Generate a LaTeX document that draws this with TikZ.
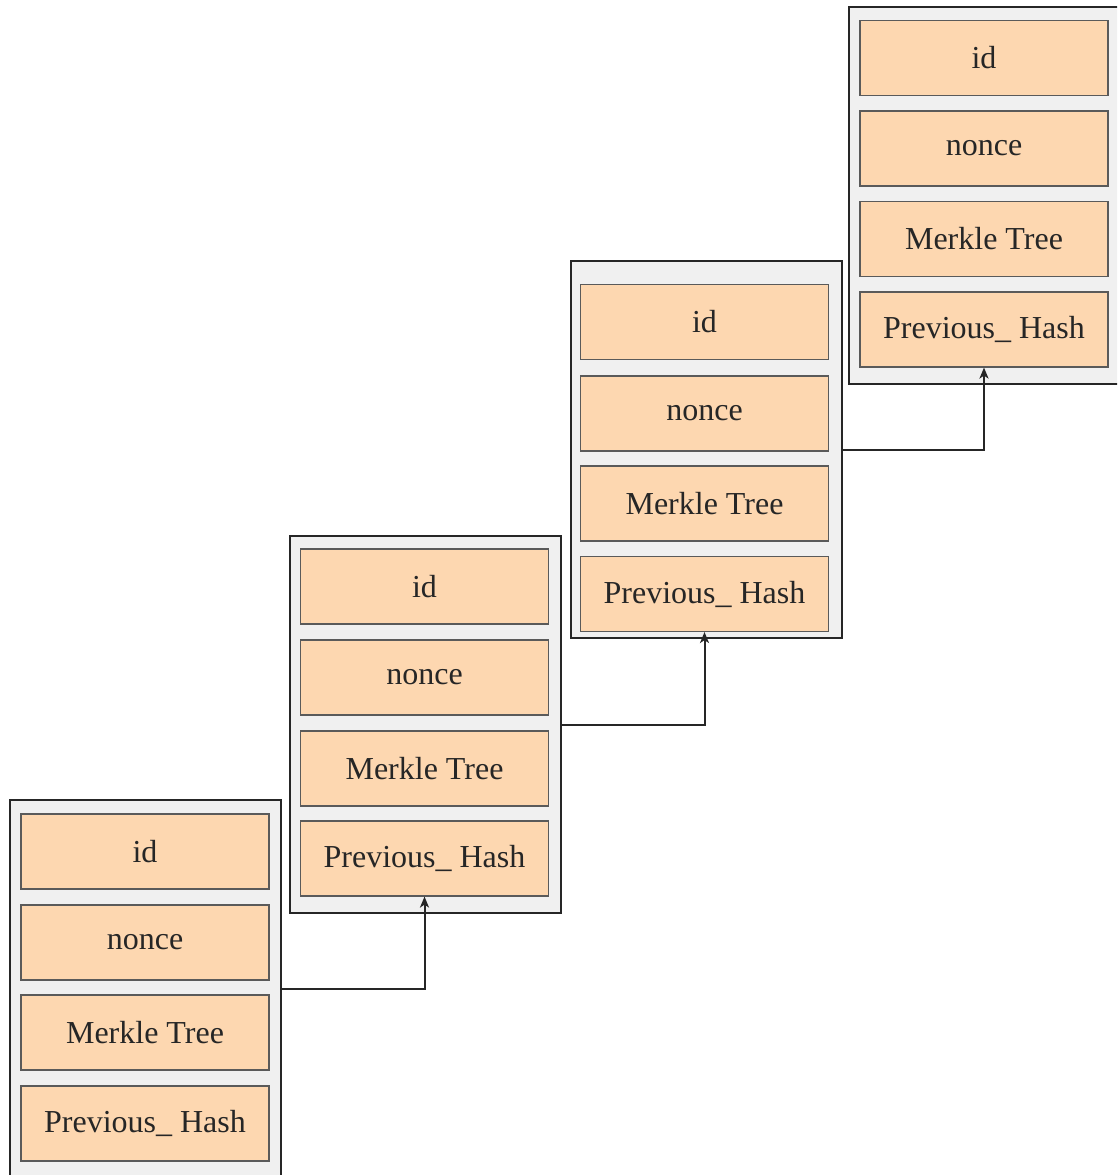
\documentclass[tikz,border=0pt]{standalone}
\usepackage{fontspec}
\setmainfont{Liberation Serif}
\usetikzlibrary{arrows.meta}
\definecolor{fieldfill}{HTML}{FDD7B0}
\definecolor{blockfill}{HTML}{F0F0F0}
\definecolor{inkdark}{HTML}{262626}
\definecolor{fieldline}{HTML}{5A5A5A}
\tikzset{
  blockbox/.style={draw=inkdark, line width=2pt, fill=blockfill, inner sep=0pt,
    minimum width=271pt, minimum height=377pt},
  fieldbox/.style={draw=fieldline, line width=1.1pt, fill=fieldfill, inner sep=0pt,
    minimum width=248pt, minimum height=75pt, text=inkdark,
    font=\fontsize{32}{38}\selectfont},
  chainlink/.style={draw=inkdark, line width=2pt,
    -{Stealth[length=11pt,width=9pt,inset=3pt]}}
}
\begin{document}
\begin{tikzpicture}[x=1pt,y=-1pt]
\useasboundingbox (0,0) rectangle (1117,1175);
\clip (0,0) rectangle (1117,1175);

% outer block frames
\node[blockbox] (b1) at (145,988.5) {};
\node[blockbox] (b2) at (425.5,724.5) {};
\node[blockbox] (b3) at (706,449.5) {};
\node[blockbox] (b4) at (984,195.5) {};

% block 1 fields
\node[fieldbox] (b1i) at (145,851.5) {id};
\node[fieldbox] (b1n) at (145,942.5) {nonce};
\node[fieldbox] (b1m) at (145,1032.5) {Merkle Tree};
\node[fieldbox] (b1p) at (145,1123.5) {Previous\_ Hash};

% block 2 fields
\node[fieldbox] (b2i) at (424.5,586.5) {id};
\node[fieldbox] (b2n) at (424.5,677.5) {nonce};
\node[fieldbox] (b2m) at (424.5,768.5) {Merkle Tree};
\node[fieldbox] (b2p) at (424.5,858.5) {Previous\_ Hash};

% block 3 fields
\node[fieldbox] (b3i) at (704.5,322) {id};
\node[fieldbox] (b3n) at (704.5,413.5) {nonce};
\node[fieldbox] (b3m) at (704.5,503.5) {Merkle Tree};
\node[fieldbox] (b3p) at (704.5,594) {Previous\_ Hash};

% block 4 fields
\node[fieldbox] (b4i) at (984,58) {id};
\node[fieldbox] (b4n) at (984,148.5) {nonce};
\node[fieldbox] (b4m) at (984,239) {Merkle Tree};
\node[fieldbox] (b4p) at (984,329.5) {Previous\_ Hash};

% hash links between consecutive blocks
\draw[chainlink] (b1.east) -| (b2p.south);
\draw[chainlink] (b2.east) -| (b3p.south);
\draw[chainlink] (b3.east) -| (b4p.south);
\end{tikzpicture}
\end{document}
